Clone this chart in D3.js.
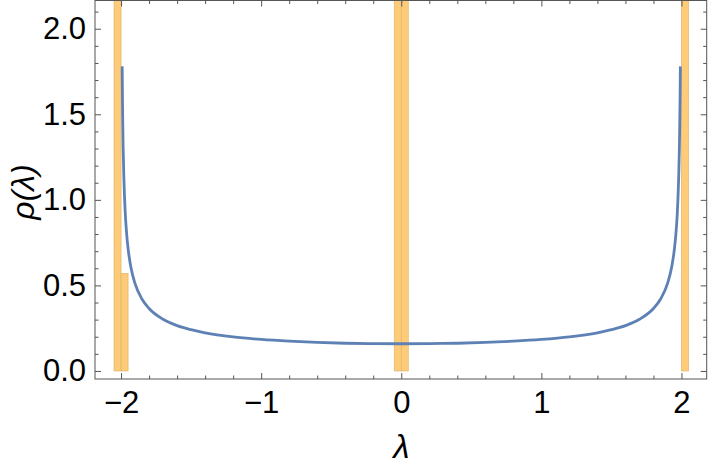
<!DOCTYPE html>
<html>
<head>
<meta charset="utf-8">
<script src="https://cdn.jsdelivr.net/npm/d3@7"></script>
<style>
  html, body { margin: 0; padding: 0; background: #fff; }
  svg { display: block; }
  text { font-family: "Liberation Sans", Arial, sans-serif; fill: #000; }
</style>
</head>
<body>
<svg id="chart" width="710" height="467"></svg>
<script>
// ---- data ----
const binStart = [-2.05, -2.00, -0.05, 0.00, 2.00];
const binEnd   = [-2.00, -1.95,  0.00, 0.05, 2.05];
const binValue = [8.0, 0.57, 8.0, 8.0, 8.0]; // tall bins run off the top of the plot

const curveX = [-1.992, -1.990, -1.988, -1.985, -1.980, -1.975, -1.970, -1.960, -1.950, -1.930, -1.900, -1.850, -1.800, -1.700, -1.600, -1.500, -1.400, -1.200, -1.000, -0.800, -0.600, -0.400, -0.200, 0.000,
                 0.200, 0.400, 0.600, 0.800, 1.000, 1.200, 1.400, 1.500, 1.600, 1.700, 1.800, 1.850, 1.900, 1.930, 1.950, 1.960, 1.970, 1.975, 1.980, 1.985, 1.988, 1.990, 1.992];
const curveY = [1.78, 1.59, 1.455, 1.30, 1.13, 1.01, 0.92, 0.80, 0.716, 0.607, 0.51, 0.419, 0.365, 0.302, 0.265, 0.241, 0.223, 0.199, 0.184, 0.174, 0.167, 0.162, 0.160, 0.159,
                0.160, 0.162, 0.167, 0.174, 0.184, 0.199, 0.223, 0.241, 0.265, 0.302, 0.365, 0.419, 0.51, 0.607, 0.716, 0.80, 0.92, 1.01, 1.13, 1.30, 1.455, 1.59, 1.78];

const xMajor = [-2, -1, 0, 1, 2];
const xMinor = [-2.2, -1.8, -1.6, -1.4, -1.2, -0.8, -0.6, -0.4, -0.2, 0.2, 0.4, 0.6, 0.8, 1.2, 1.4, 1.6, 1.8];
const yMajor = [0, 0.5, 1.0, 1.5, 2.0];
const yMinor = [0.1, 0.2, 0.3, 0.4, 0.6, 0.7, 0.8, 0.9, 1.1, 1.2, 1.3, 1.4, 1.6, 1.7, 1.8, 1.9, 2.1];

// ---- layout ----
const L = 95, R = 706.7, T = 0.5, B = 379;
const x = d3.scaleLinear().domain([-2.186, 2.18]).range([L, R]);
const y = d3.scaleLinear().domain([-0.047, 2.165]).range([B, T]);

const svg = d3.select("#chart");
svg.append("defs").append("clipPath").attr("id", "clip")
  .append("rect").attr("x", L).attr("y", T).attr("width", R - L).attr("height", B - T);

const plot = svg.append("g").attr("clip-path", "url(#clip)");

// histogram bars
const bins = binStart.map((s, i) => ({s, e: binEnd[i], v: binValue[i]}));
plot.selectAll("rect.bar").data(bins).join("rect")
  .attr("class", "bar")
  .attr("x", d => x(d.s))
  .attr("width", d => x(d.e) - x(d.s))
  .attr("y", d => y(d.v))
  .attr("height", d => y(0) - y(d.v))
  .attr("fill", "#fecb78")
  .attr("stroke", "#e2b46a")
  .attr("stroke-width", 0.7);

// curve
const pts = curveX.map((v, i) => [v, curveY[i]]);
plot.append("path")
  .datum(pts)
  .attr("fill", "none")
  .attr("stroke", "#5e81b5")
  .attr("stroke-width", 2.8)
  .attr("stroke-linejoin", "round")
  .attr("d", d3.line().x(d => x(d[0])).y(d => y(d[1])).curve(d3.curveMonotoneX));

// axes with inward ticks
const frameColor = "#555";
const fmtY = d3.format(".1f");
const FS = "31px";

function styleAxis(g) {
  g.select(".domain").remove();
  g.selectAll(".tick line").attr("stroke", frameColor).attr("stroke-width", 1);
  g.selectAll(".tick text").style("font-size", FS).attr("fill", "#000");
}

// bottom
svg.append("g").attr("transform", `translate(0,${B})`)
  .call(d3.axisBottom(x).tickValues(xMajor).tickFormat(d => d < 0 ? "\u2212" + Math.abs(d) : String(d)).tickSizeInner(-6).tickSizeOuter(0).tickPadding(12))
  .call(styleAxis);
svg.append("g").attr("transform", `translate(0,${B})`)
  .call(d3.axisBottom(x).tickValues(xMinor.filter(v => x(v) >= L && x(v) <= R)).tickFormat("").tickSizeInner(-3.5).tickSizeOuter(0))
  .call(styleAxis);
// top
svg.append("g").attr("transform", `translate(0,${T})`)
  .call(d3.axisTop(x).tickValues(xMajor).tickFormat("").tickSizeInner(-6).tickSizeOuter(0))
  .call(styleAxis);
svg.append("g").attr("transform", `translate(0,${T})`)
  .call(d3.axisTop(x).tickValues(xMinor.filter(v => x(v) >= L && x(v) <= R)).tickFormat("").tickSizeInner(-3.5).tickSizeOuter(0))
  .call(styleAxis);
// left
svg.append("g").attr("transform", `translate(${L},0)`)
  .call(d3.axisLeft(y).tickValues(yMajor).tickFormat(fmtY).tickSizeInner(-6).tickSizeOuter(0).tickPadding(9))
  .call(styleAxis);
svg.append("g").attr("transform", `translate(${L},0)`)
  .call(d3.axisLeft(y).tickValues(yMinor).tickFormat("").tickSizeInner(-3.5).tickSizeOuter(0))
  .call(styleAxis);
// right
svg.append("g").attr("transform", `translate(${R},0)`)
  .call(d3.axisRight(y).tickValues(yMajor).tickFormat("").tickSizeInner(-6).tickSizeOuter(0))
  .call(styleAxis);
svg.append("g").attr("transform", `translate(${R},0)`)
  .call(d3.axisRight(y).tickValues(yMinor).tickFormat("").tickSizeInner(-3.5).tickSizeOuter(0))
  .call(styleAxis);

// frame
svg.append("rect").attr("x", L).attr("y", T).attr("width", R - L).attr("height", B - T)
  .attr("fill", "none").attr("stroke", frameColor).attr("stroke-width", 1);

// labels
svg.append("text").attr("x", x(0)).attr("y", 458)
  .attr("text-anchor", "middle").style("font-size", "33px").style("font-style", "italic")
  .text("λ");
svg.append("text")
  .attr("transform", `translate(34,192) rotate(-90)`)
  .attr("text-anchor", "middle").style("font-size", "32px").style("font-style", "italic")
  .text("ρ(λ)");
</script>
</body>
</html>
